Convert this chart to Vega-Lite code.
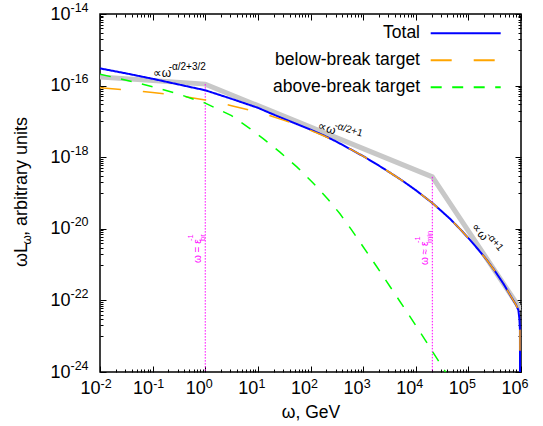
{
  "$schema": "https://vega.github.io/schema/vega-lite/v6.json",
  "width": 421,
  "height": 358,
  "autosize": {"type": "none"},
  "padding": {"left": 100, "top": 14, "right": 22, "bottom": 54},
  "background": "white",
  "config": {
    "view": {"stroke": "black", "strokeWidth": 1.5},
    "font": "Liberation Sans",
    "axis": {
      "grid": false, "labelFont": "Liberation Sans", "labelFontSize": 18, "labelColor": "black",
      "tickColor": "black", "tickWidth": 1, "domain": false,
      "labelFlush": false, "labelOverlap": false, "titleFont": "Liberation Sans", "titleFontSize": 17.5,
      "titleFontWeight": "normal", "titleColor": "black"
    },
    "legend": {"labelFont": "Liberation Sans"}
  },
  "datasets": {
    "gray": [
      {"w": 0.01, "L": 1.74e-16},
      {"w": 1, "L": 1.10e-16},
      {"w": 20650, "L": 2.82e-19},
      {"w": 1000000, "L": 5.37e-23}
    ],
    "guides": [
      {"w": 1, "L": 1.10e-16, "L2": 1e-24},
      {"w": 20650, "L": 2.82e-19, "L2": 1e-24}
    ],
    "lines": [
      {"series": "Total", "w": 0.01, "L": 3.02e-16},
      {"series": "Total", "w": 0.0316, "L": 2.19e-16},
      {"series": "Total", "w": 0.1, "L": 1.55e-16},
      {"series": "Total", "w": 0.316, "L": 1.07e-16},
      {"series": "Total", "w": 1, "L": 7.41e-17},
      {"series": "Total", "w": 3.16, "L": 4.27e-17},
      {"series": "Total", "w": 10, "L": 2.40e-17},
      {"series": "Total", "w": 17.8, "L": 1.66e-17},
      {"series": "Total", "w": 31.6, "L": 1.17e-17},
      {"series": "Total", "w": 56.2, "L": 8.32e-18},
      {"series": "Total", "w": 100, "L": 5.89e-18},
      {"series": "Total", "w": 178, "L": 4.07e-18},
      {"series": "Total", "w": 316, "L": 2.69e-18},
      {"series": "Total", "w": 562, "L": 1.70e-18},
      {"series": "Total", "w": 1000, "L": 1.07e-18},
      {"series": "Total", "w": 1778, "L": 6.46e-19},
      {"series": "Total", "w": 3162, "L": 3.80e-19},
      {"series": "Total", "w": 5623, "L": 2.19e-19},
      {"series": "Total", "w": 10000, "L": 1.20e-19},
      {"series": "Total", "w": 20650, "L": 5.25e-20},
      {"series": "Total", "w": 31620, "L": 3.02e-20},
      {"series": "Total", "w": 44670, "L": 1.91e-20},
      {"series": "Total", "w": 70790, "L": 9.55e-21},
      {"series": "Total", "w": 107200, "L": 4.90e-21},
      {"series": "Total", "w": 158500, "L": 2.51e-21},
      {"series": "Total", "w": 223900, "L": 1.35e-21},
      {"series": "Total", "w": 316200, "L": 6.76e-22},
      {"series": "Total", "w": 457100, "L": 3.02e-22},
      {"series": "Total", "w": 562300, "L": 1.82e-22},
      {"series": "Total", "w": 707900, "L": 1.02e-22},
      {"series": "Total", "w": 794300, "L": 7.76e-23},
      {"series": "Total", "w": 891300, "L": 5.37e-23},
      {"series": "Total", "w": 933000, "L": 3.0e-23},
      {"series": "Total", "w": 955000, "L": 1.5e-23},
      {"series": "Total", "w": 958000, "L": 3.0e-25},
      {"series": "below-break target", "w": 0.01, "L": 8.71e-17},
      {"series": "below-break target", "w": 0.0316, "L": 7.59e-17},
      {"series": "below-break target", "w": 0.1, "L": 6.46e-17},
      {"series": "below-break target", "w": 0.316, "L": 5.25e-17},
      {"series": "below-break target", "w": 1, "L": 3.98e-17},
      {"series": "below-break target", "w": 3.16, "L": 2.75e-17},
      {"series": "below-break target", "w": 10, "L": 1.82e-17},
      {"series": "below-break target", "w": 17.8, "L": 1.41e-17},
      {"series": "below-break target", "w": 31.6, "L": 1.07e-17},
      {"series": "below-break target", "w": 56.2, "L": 7.94e-18},
      {"series": "below-break target", "w": 100, "L": 5.62e-18},
      {"series": "below-break target", "w": 178, "L": 3.98e-18},
      {"series": "below-break target", "w": 316, "L": 2.66e-18},
      {"series": "below-break target", "w": 562, "L": 1.70e-18},
      {"series": "below-break target", "w": 1000, "L": 1.07e-18},
      {"series": "below-break target", "w": 1778, "L": 6.46e-19},
      {"series": "below-break target", "w": 3162, "L": 3.80e-19},
      {"series": "below-break target", "w": 5623, "L": 2.19e-19},
      {"series": "below-break target", "w": 10000, "L": 1.20e-19},
      {"series": "below-break target", "w": 20650, "L": 5.25e-20},
      {"series": "below-break target", "w": 31620, "L": 3.02e-20},
      {"series": "below-break target", "w": 44670, "L": 1.91e-20},
      {"series": "below-break target", "w": 70790, "L": 9.55e-21},
      {"series": "below-break target", "w": 107200, "L": 4.90e-21},
      {"series": "below-break target", "w": 158500, "L": 2.51e-21},
      {"series": "below-break target", "w": 223900, "L": 1.35e-21},
      {"series": "below-break target", "w": 316200, "L": 6.76e-22},
      {"series": "below-break target", "w": 457100, "L": 3.02e-22},
      {"series": "below-break target", "w": 562300, "L": 1.82e-22},
      {"series": "below-break target", "w": 707900, "L": 1.02e-22},
      {"series": "below-break target", "w": 794300, "L": 7.76e-23},
      {"series": "below-break target", "w": 891300, "L": 5.37e-23},
      {"series": "below-break target", "w": 933000, "L": 3.0e-23},
      {"series": "below-break target", "w": 955000, "L": 1.5e-23},
      {"series": "below-break target", "w": 958000, "L": 3.0e-25},
      {"series": "above-break target", "w": 0.01, "L": 2.09e-16},
      {"series": "above-break target", "w": 0.0316, "L": 1.41e-16},
      {"series": "above-break target", "w": 0.1, "L": 9.33e-17},
      {"series": "above-break target", "w": 0.316, "L": 5.75e-17},
      {"series": "above-break target", "w": 1, "L": 3.24e-17},
      {"series": "above-break target", "w": 3.16, "L": 1.45e-17},
      {"series": "above-break target", "w": 7.08, "L": 6.31e-18},
      {"series": "above-break target", "w": 12.6, "L": 3.31e-18},
      {"series": "above-break target", "w": 26.3, "L": 1.38e-18},
      {"series": "above-break target", "w": 55.0, "L": 5.37e-19},
      {"series": "above-break target", "w": 112, "L": 1.91e-19},
      {"series": "above-break target", "w": 219, "L": 6.46e-20},
      {"series": "above-break target", "w": 363, "L": 2.63e-20},
      {"series": "above-break target", "w": 603, "L": 9.33e-21},
      {"series": "above-break target", "w": 1000, "L": 3.16e-21},
      {"series": "above-break target", "w": 1820, "L": 8.71e-22},
      {"series": "above-break target", "w": 3236, "L": 2.45e-22},
      {"series": "above-break target", "w": 5012, "L": 9.33e-23},
      {"series": "above-break target", "w": 10000, "L": 2.0e-23},
      {"series": "above-break target", "w": 17780, "L": 5.37e-24},
      {"series": "above-break target", "w": 30900, "L": 1.51e-24},
      {"series": "above-break target", "w": 39810, "L": 8.32e-25}
    ],
    "ann": [
      {"id": "a1", "w": 0.1, "L": 2.19e-16, "main": "∝ω", "sup": "-α/2+3/2"},
      {"id": "a2", "w": 139, "L": 7.76e-18, "main": "∝ω", "sup": "-α/2+1"},
      {"id": "a3", "w": 127900, "L": 1.29e-20, "main": "∝ω", "sup": "-α+1"}
    ],
    "marks": [
      {"w": 1, "L": 1.11e-21, "main": "ω = ε", "sub": "br", "sup": "-1"},
      {"w": 20650, "L": 9.77e-22, "main": "ω ≈ ε", "sub": "min", "sup": "-1"}
    ],
    "ytitle": [
      {"w": 0.01, "L": 1e-19, "a": "ωL", "b": "ω", "c": ", arbitrary units"}
    ]
  },
  "layer": [
    {
      "data": {"name": "gray"},
      "mark": {"type": "line", "stroke": "#c8c8c8", "strokeWidth": 5, "clip": true},
      "encoding": {
        "x": {"field": "w", "type": "quantitative", "scale": {"type": "log", "domain": [0.01, 1000000], "nice": false},
          "axis": {"orient": "bottom", "offset": -6, "tickSize": 6, "values": [0.01, 0.1, 1, 10, 100, 1000, 10000, 100000, 1000000],
            "labelExpr": "'10'", "labelAlign": "right", "labelBaseline": "top", "labelPadding": 7.4, "title": "ω, GeV", "titlePadding": 6}},
        "y": {"field": "L", "type": "quantitative", "scale": {"type": "log", "domain": [1e-24, 1e-14], "nice": false},
          "axis": {"orient": "left", "offset": -6, "tickSize": 6, "values": [1e-24, 1e-22, 1e-20, 1e-18, 1e-16, 1e-14],
            "labelExpr": "'10'", "labelAlign": "right", "labelBaseline": "middle", "labelPadding": 30, "title": null}}
      }
    },
    {
      "data": {"name": "guides"},
      "mark": {"type": "rule", "color": "#ff00ff", "strokeWidth": 1, "strokeDash": [1.5, 1.5]},
      "encoding": {
        "x": {"field": "w", "type": "quantitative", "scale": {"type": "log", "domain": [0.01, 1000000], "nice": false},
          "axis": {"orient": "bottom", "offset": 0, "tickSize": 0, "tickOpacity": 0, "values": [0.01, 0.1, 1, 10, 100, 1000, 10000, 100000, 1000000],
            "labelExpr": "['-2','-1','0','1','2','3','4','5','6'][round(log(datum.value)/LN10)+2]",
            "labelFontSize": 12.5, "labelAlign": "left", "labelBaseline": "top", "labelPadding": 5, "title": null}},
        "y": {"field": "L", "type": "quantitative", "scale": {"type": "log", "domain": [1e-24, 1e-14], "nice": false},
          "axis": {"orient": "left", "offset": 0, "tickSize": 0, "tickOpacity": 0, "values": [1e-24, 1e-22, 1e-20, 1e-18, 1e-16, 1e-14],
            "labelExpr": "['-24','-22','-20','-18','-16','-14'][(round(log(datum.value)/LN10)+24)/2]",
            "labelFontSize": 12.5, "labelAlign": "left", "labelBaseline": "middle", "labelPadding": 30, "labelOffset": -7, "title": null}},
        "y2": {"field": "L2"}
      }
    },
    {
      "data": {"name": "lines"},
      "transform": [{"filter": "datum.series === 'Total'"}],
      "mark": {"type": "line", "strokeWidth": 2, "clip": true},
      "encoding": {
        "x": {"field": "w", "type": "quantitative", "scale": {"type": "log", "domain": [0.01, 1000000], "nice": false},
          "axis": {"orient": "bottom", "offset": -3, "tickSize": 3, "values": [0.02,0.03,0.04,0.05,0.06,0.07,0.08,0.09,0.2,0.3,0.4,0.5,0.6,0.7,0.8,0.9,2,3,4,5,6,7,8,9,20,30,40,50,60,70,80,90,200,300,400,500,600,700,800,900,2000,3000,4000,5000,6000,7000,8000,9000,20000,30000,40000,50000,60000,70000,80000,90000,200000,300000,400000,500000,600000,700000,800000,900000],
            "labels": false, "title": null}},
        "y": {"field": "L", "type": "quantitative", "scale": {"type": "log", "domain": [1e-24, 1e-14], "nice": false},
          "axis": {"orient": "left", "offset": -3, "tickSize": 3, "values": [1e-23,2e-23,3e-23,4e-23,5e-23,6e-23,7e-23,8e-23,9e-23,1e-21,2e-21,3e-21,4e-21,5e-21,6e-21,7e-21,8e-21,9e-21,1e-19,2e-19,3e-19,4e-19,5e-19,6e-19,7e-19,8e-19,9e-19,1e-17,2e-17,3e-17,4e-17,5e-17,6e-17,7e-17,8e-17,9e-17,1e-15,2e-15,3e-15,4e-15,5e-15,6e-15,7e-15,8e-15,9e-15],
            "labels": false, "title": null}},
        "color": {"field": "series", "type": "nominal",
          "scale": {"domain": ["Total", "below-break target", "above-break target"], "range": ["#0000ff", "#ffa500", "#00ff00"]},
          "legend": {"orient": "none", "legendX": 354.7, "legendY": 8.3, "title": null, "symbolType": "M-3.5,0H3.5", "symbolSize": 400, "symbolStrokeWidth": 2, "labelFontSize": 17.5, "labelColor": "black", "labelAlign": "right", "labelOffset": -56.7, "labelLimit": 400, "rowPadding": 7, "padding": 0}},
        "strokeDash": {"field": "series", "type": "nominal",
          "scale": {"domain": ["Total", "below-break target", "above-break target"], "range": [[1, 0], [21, 22], [11, 10.5]]},
          "legend": {"orient": "none", "legendX": 354.7, "legendY": 8.3, "title": null, "symbolType": "M-3.5,0H3.5", "symbolSize": 400, "symbolStrokeWidth": 2, "labelFontSize": 17.5, "labelColor": "black", "labelAlign": "right", "labelOffset": -56.7, "labelLimit": 400, "rowPadding": 7, "padding": 0}}
      }
    },
    {
      "data": {"name": "lines"},
      "transform": [{"filter": "datum.series === 'below-break target'"}],
      "mark": {"type": "line", "strokeWidth": 1.5, "clip": true},
      "encoding": {
        "x": {"field": "w", "type": "quantitative", "scale": {"type": "log", "domain": [0.01, 1000000], "nice": false},
          "axis": {"orient": "top", "offset": -6, "tickSize": 6, "values": [0.01, 0.1, 1, 10, 100, 1000, 10000, 100000, 1000000], "labels": false, "title": null}},
        "y": {"field": "L", "type": "quantitative", "scale": {"type": "log", "domain": [1e-24, 1e-14], "nice": false},
          "axis": {"orient": "right", "offset": -6, "tickSize": 6, "values": [1e-24, 1e-22, 1e-20, 1e-18, 1e-16, 1e-14], "labels": false, "title": null}},
        "color": {"field": "series", "type": "nominal", "scale": {"domain": ["Total", "below-break target", "above-break target"], "range": ["#0000ff", "#ffa500", "#00ff00"]}},
        "strokeDash": {"field": "series", "type": "nominal", "scale": {"domain": ["Total", "below-break target", "above-break target"], "range": [[1, 0], [21, 22], [11, 10.5]]}}
      }
    },
    {
      "data": {"name": "lines"},
      "transform": [{"filter": "datum.series === 'above-break target'"}],
      "mark": {"type": "line", "strokeWidth": 1.5, "clip": true},
      "encoding": {
        "x": {"field": "w", "type": "quantitative", "scale": {"type": "log", "domain": [0.01, 1000000], "nice": false},
          "axis": {"orient": "top", "offset": -3, "tickSize": 3, "values": [0.02,0.03,0.04,0.05,0.06,0.07,0.08,0.09,0.2,0.3,0.4,0.5,0.6,0.7,0.8,0.9,2,3,4,5,6,7,8,9,20,30,40,50,60,70,80,90,200,300,400,500,600,700,800,900,2000,3000,4000,5000,6000,7000,8000,9000,20000,30000,40000,50000,60000,70000,80000,90000,200000,300000,400000,500000,600000,700000,800000,900000],
            "labels": false, "title": null}},
        "y": {"field": "L", "type": "quantitative", "scale": {"type": "log", "domain": [1e-24, 1e-14], "nice": false},
          "axis": {"orient": "right", "offset": -3, "tickSize": 3, "values": [1e-23,2e-23,3e-23,4e-23,5e-23,6e-23,7e-23,8e-23,9e-23,1e-21,2e-21,3e-21,4e-21,5e-21,6e-21,7e-21,8e-21,9e-21,1e-19,2e-19,3e-19,4e-19,5e-19,6e-19,7e-19,8e-19,9e-19,1e-17,2e-17,3e-17,4e-17,5e-17,6e-17,7e-17,8e-17,9e-17,1e-15,2e-15,3e-15,4e-15,5e-15,6e-15,7e-15,8e-15,9e-15],
            "labels": false, "title": null}},
        "color": {"field": "series", "type": "nominal", "scale": {"domain": ["Total", "below-break target", "above-break target"], "range": ["#0000ff", "#ffa500", "#00ff00"]}},
        "strokeDash": {"field": "series", "type": "nominal", "scale": {"domain": ["Total", "below-break target", "above-break target"], "range": [[1, 0], [21, 22], [11, 10.5]]}}
      }
    },
    {
      "data": {"name": "ann"},
      "transform": [{"filter": "datum.id === 'a1'"}],
      "layer": [
        {"mark": {"type": "text", "align": "left", "baseline": "middle", "fontSize": 12, "color": "black"},
         "encoding": {"text": {"field": "main", "type": "nominal"}}},
        {"mark": {"type": "text", "align": "left", "baseline": "middle", "fontSize": 10, "color": "black", "dx": 16, "dy": -6},
         "encoding": {"text": {"field": "sup", "type": "nominal"}}}
      ],
      "encoding": {
        "x": {"field": "w", "type": "quantitative", "scale": {"type": "log", "domain": [0.01, 1000000], "nice": false}, "axis": null},
        "y": {"field": "L", "type": "quantitative", "scale": {"type": "log", "domain": [1e-24, 1e-14], "nice": false}, "axis": null}
      }
    },
    {
      "data": {"name": "ann"},
      "transform": [{"filter": "datum.id === 'a2'"}],
      "layer": [
        {"mark": {"type": "text", "align": "left", "baseline": "middle", "fontSize": 12, "color": "black", "angle": 17},
         "encoding": {"text": {"field": "main", "type": "nominal"}}},
        {"mark": {"type": "text", "align": "left", "baseline": "middle", "fontSize": 10, "color": "black", "angle": 17, "dx": 16, "dy": -5},
         "encoding": {"text": {"field": "sup", "type": "nominal"}}}
      ],
      "encoding": {
        "x": {"field": "w", "type": "quantitative", "scale": {"type": "log", "domain": [0.01, 1000000], "nice": false}, "axis": null},
        "y": {"field": "L", "type": "quantitative", "scale": {"type": "log", "domain": [1e-24, 1e-14], "nice": false}, "axis": null}
      }
    },
    {
      "data": {"name": "ann"},
      "transform": [{"filter": "datum.id === 'a3'"}],
      "layer": [
        {"mark": {"type": "text", "align": "left", "baseline": "middle", "fontSize": 12, "color": "black", "angle": 50},
         "encoding": {"text": {"field": "main", "type": "nominal"}}},
        {"mark": {"type": "text", "align": "left", "baseline": "middle", "fontSize": 10, "color": "black", "angle": 50, "dx": 16, "dy": -5},
         "encoding": {"text": {"field": "sup", "type": "nominal"}}}
      ],
      "encoding": {
        "x": {"field": "w", "type": "quantitative", "scale": {"type": "log", "domain": [0.01, 1000000], "nice": false}, "axis": null},
        "y": {"field": "L", "type": "quantitative", "scale": {"type": "log", "domain": [1e-24, 1e-14], "nice": false}, "axis": null}
      }
    },
    {
      "data": {"name": "marks"},
      "layer": [
        {"mark": {"type": "text", "align": "left", "baseline": "middle", "fontSize": 10, "color": "#ff00ff", "angle": 270, "dy": -7},
         "encoding": {"text": {"field": "main", "type": "nominal"}}},
        {"mark": {"type": "text", "align": "left", "baseline": "middle", "fontSize": 7.5, "color": "#ff00ff", "angle": 270, "dx": 22, "dy": -2},
         "encoding": {"text": {"field": "sub", "type": "nominal"}}},
        {"mark": {"type": "text", "align": "left", "baseline": "middle", "fontSize": 7.5, "color": "#ff00ff", "angle": 270, "dx": 22, "dy": -14},
         "encoding": {"text": {"field": "sup", "type": "nominal"}}}
      ],
      "encoding": {
        "x": {"field": "w", "type": "quantitative", "scale": {"type": "log", "domain": [0.01, 1000000], "nice": false}, "axis": null},
        "y": {"field": "L", "type": "quantitative", "scale": {"type": "log", "domain": [1e-24, 1e-14], "nice": false}, "axis": null}
      }
    },
    {
      "data": {"name": "ytitle"},
      "layer": [
        {"mark": {"type": "text", "align": "left", "baseline": "alphabetic", "fontSize": 18, "color": "black", "angle": 270, "dx": -74, "dy": -73},
         "encoding": {"text": {"field": "a", "type": "nominal"}}},
        {"mark": {"type": "text", "align": "left", "baseline": "alphabetic", "fontSize": 12, "color": "black", "angle": 270, "dx": -51.5, "dy": -69},
         "encoding": {"text": {"field": "b", "type": "nominal"}}},
        {"mark": {"type": "text", "align": "left", "baseline": "alphabetic", "fontSize": 18, "color": "black", "angle": 270, "dx": -43, "dy": -73},
         "encoding": {"text": {"field": "c", "type": "nominal"}}}
      ],
      "encoding": {
        "x": {"field": "w", "type": "quantitative", "scale": {"type": "log", "domain": [0.01, 1000000], "nice": false}, "axis": null},
        "y": {"field": "L", "type": "quantitative", "scale": {"type": "log", "domain": [1e-24, 1e-14], "nice": false}, "axis": null}
      }
    }
  ],
  "resolve": {"axis": {"x": "independent", "y": "independent"}}
}
